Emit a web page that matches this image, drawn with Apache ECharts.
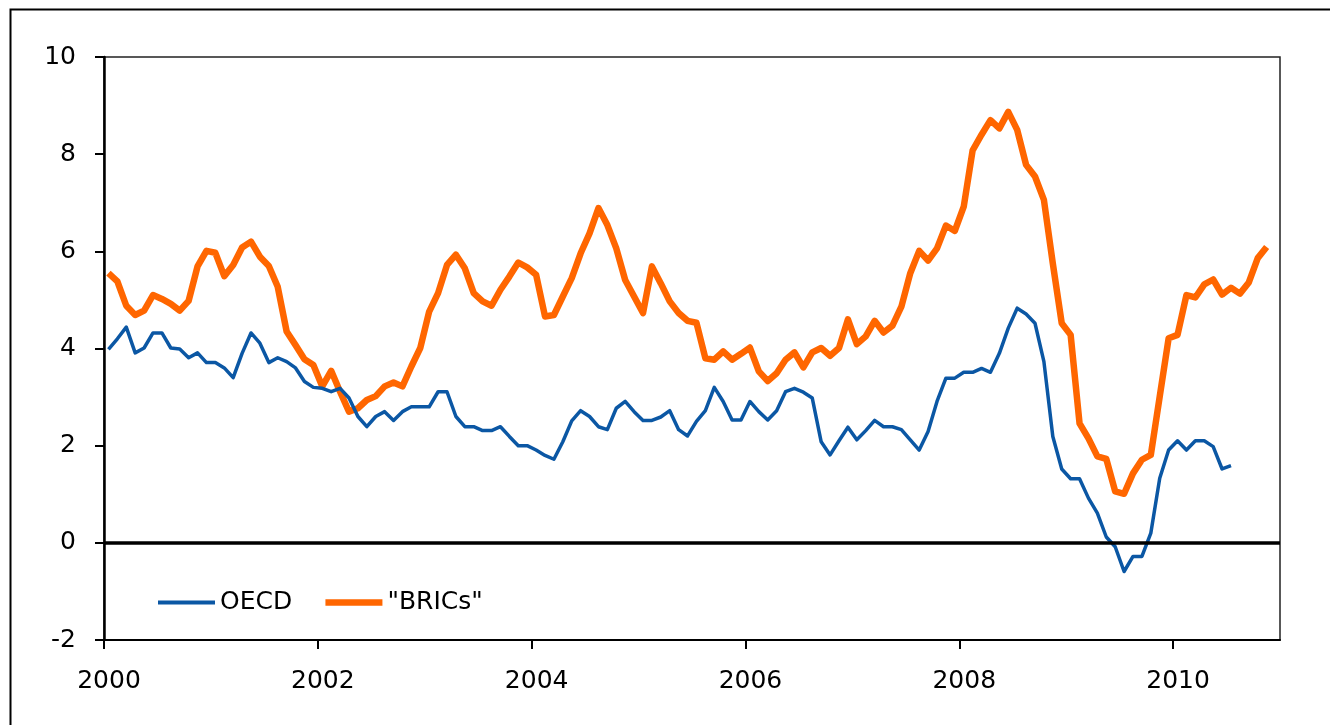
<!DOCTYPE html>
<html>
<head>
<meta charset="utf-8">
<script src="https://cdn.jsdelivr.net/npm/echarts@6/dist/echarts.min.js"></script>
<style>
html,body{margin:0;padding:0;background:#fff;}
#chart{width:1330px;height:725px;}
</style>
</head>
<body>
<div id="chart"></div>
<script>
// Monthly series, starting January 2000
const startYear = 2000;
const oecd = [
  3.98, 4.20, 4.44, 3.91, 4.01, 4.32, 4.32, 4.01, 3.99, 3.81, 3.91, 3.71,
  3.71, 3.60, 3.40, 3.90, 4.32, 4.11, 3.71, 3.81, 3.73, 3.60, 3.32, 3.20,
  3.18, 3.11, 3.18, 2.98, 2.60, 2.39, 2.60, 2.70, 2.52, 2.70, 2.80, 2.80,
  2.80, 3.11, 3.11, 2.60, 2.39, 2.39, 2.31, 2.31, 2.39, 2.19, 2.00, 2.00,
  1.91, 1.80, 1.72, 2.08, 2.51, 2.72, 2.60, 2.39, 2.33, 2.77, 2.91, 2.70,
  2.52, 2.52, 2.59, 2.72, 2.33, 2.20, 2.50, 2.72, 3.20, 2.91, 2.53, 2.53,
  2.91, 2.70, 2.53, 2.72, 3.11, 3.18, 3.10, 2.98, 2.08, 1.81, 2.10, 2.38,
  2.12, 2.31, 2.52, 2.39, 2.39, 2.33, 2.12, 1.91, 2.29, 2.91, 3.39, 3.39,
  3.51, 3.51, 3.59, 3.51, 3.90, 4.42, 4.83, 4.71, 4.52, 3.73, 2.19, 1.52,
  1.32, 1.32, 0.92, 0.61, 0.12, -0.08, -0.59, -0.28, -0.28, 0.20, 1.33, 1.91,
  2.10, 1.91, 2.10, 2.10, 1.98, 1.52, 1.59
];
const brics = [
  5.55, 5.38, 4.88, 4.69, 4.78, 5.10, 5.02, 4.92, 4.78, 4.98, 5.69, 6.01,
  5.97, 5.49, 5.72, 6.08, 6.20, 5.89, 5.70, 5.27, 4.35, 4.07, 3.78, 3.66,
  3.22, 3.54, 3.11, 2.70, 2.77, 2.94, 3.02, 3.22, 3.30, 3.22, 3.63, 4.01,
  4.76, 5.14, 5.72, 5.93, 5.65, 5.14, 4.97, 4.88, 5.21, 5.48, 5.77, 5.67,
  5.52, 4.66, 4.69, 5.07, 5.45, 5.96, 6.37, 6.89, 6.54, 6.06, 5.41, 5.07,
  4.73, 5.69, 5.34, 4.97, 4.73, 4.57, 4.53, 3.80, 3.77, 3.94, 3.77, 3.89,
  4.02, 3.53, 3.33, 3.49, 3.77, 3.92, 3.61, 3.92, 4.01, 3.85, 4.01, 4.60,
  4.09, 4.25, 4.57, 4.33, 4.47, 4.86, 5.55, 6.01, 5.81, 6.06, 6.53, 6.42,
  6.92, 8.08, 8.40, 8.70, 8.53, 8.87, 8.50, 7.78, 7.54, 7.06, 5.75, 4.52,
  4.28, 2.46, 2.15, 1.78, 1.73, 1.06, 1.01, 1.43, 1.71, 1.81, 3.01, 4.21,
  4.28, 5.10, 5.05, 5.32, 5.42, 5.11, 5.25, 5.13, 5.36, 5.86, 6.09
];
const seriesNames = ['OECD', '"BRICs"'];
const xTickYears = [2000, 2002, 2004, 2006, 2008, 2010];
const yTicks = [-2, 0, 2, 4, 6, 8, 10];

// place each monthly value mid-month on a year axis
function toPoints(arr) {
  return arr.map((v, i) => [startYear + (i + 0.5) / 12, v]);
}

const BLUE = '#0b57a4';
const ORANGE = '#ff6600';
const FONT = 'DejaVu Sans';
const chart = echarts.init(document.getElementById('chart'), null, {renderer: 'canvas'});
chart.setOption({
  animation: false,
  backgroundColor: '#fff',
  grid: {
    left: 104, right: 50, top: 57, bottom: 85,
    show: true, borderColor: '#222', borderWidth: 1.5, backgroundColor: 'transparent'
  },
  graphic: [{
    type: 'rect', left: 8, top: 7,
    shape: {width: 1340, height: 740},
    style: {fill: 'none', stroke: '#000', lineWidth: 2},
    silent: true
  }],
  legend: {
    left: 151, top: 585,
    itemWidth: 57, itemHeight: 14, itemGap: 30,
    textStyle: {fontFamily: FONT, fontSize: 25, color: '#000'},
    itemStyle: {opacity: 0},
    data: [
      {name: seriesNames[0], lineStyle: {color: BLUE, width: 4}, itemStyle: {opacity: 0}},
      {name: seriesNames[1], lineStyle: {color: ORANGE, width: 6.5}, itemStyle: {opacity: 0}}
    ]
  },
  xAxis: {
    type: 'value',
    min: 2000, max: 2011, interval: 2,
    splitLine: {show: false},
    axisLine: {show: true, onZero: false, lineStyle: {color: '#000', width: 2}},
    axisTick: {show: true, length: 9, inside: false, customValues: xTickYears, lineStyle: {color: '#000', width: 2}},
    axisLabel: {
      customValues: xTickYears,
      margin: 29, padding: [0, 0, 0, 10],
      fontFamily: FONT, fontSize: 25, color: '#000',
      formatter: v => String(v)
    }
  },
  yAxis: {
    type: 'value',
    min: -2, max: 10, interval: 2,
    splitLine: {show: false},
    axisLine: {show: true, onZero: false, lineStyle: {color: '#000', width: 2.5}},
    axisTick: {show: true, length: 9, customValues: yTicks, lineStyle: {color: '#000', width: 2}},
    axisLabel: {
      customValues: yTicks,
      margin: 28, fontFamily: FONT, fontSize: 25, color: '#000',
      formatter: v => String(v)
    }
  },
  series: [
    {
      name: seriesNames[0], type: 'line', data: toPoints(oecd),
      symbol: 'none', showSymbol: false,
      lineStyle: {color: BLUE, width: 3.5, join: 'round'},
      itemStyle: {color: BLUE},
      z: 3,
      markLine: {
        silent: true, symbol: 'none', label: {show: false},
        lineStyle: {color: '#000', width: 3.5, type: 'solid'},
        data: [{yAxis: 0}],
        z: 5
      }
    },
    {
      name: seriesNames[1], type: 'line', data: toPoints(brics),
      symbol: 'none', showSymbol: false,
      lineStyle: {color: ORANGE, width: 6.5, join: 'round'},
      itemStyle: {color: ORANGE},
      z: 2
    }
  ]
});
</script>
</body>
</html>
